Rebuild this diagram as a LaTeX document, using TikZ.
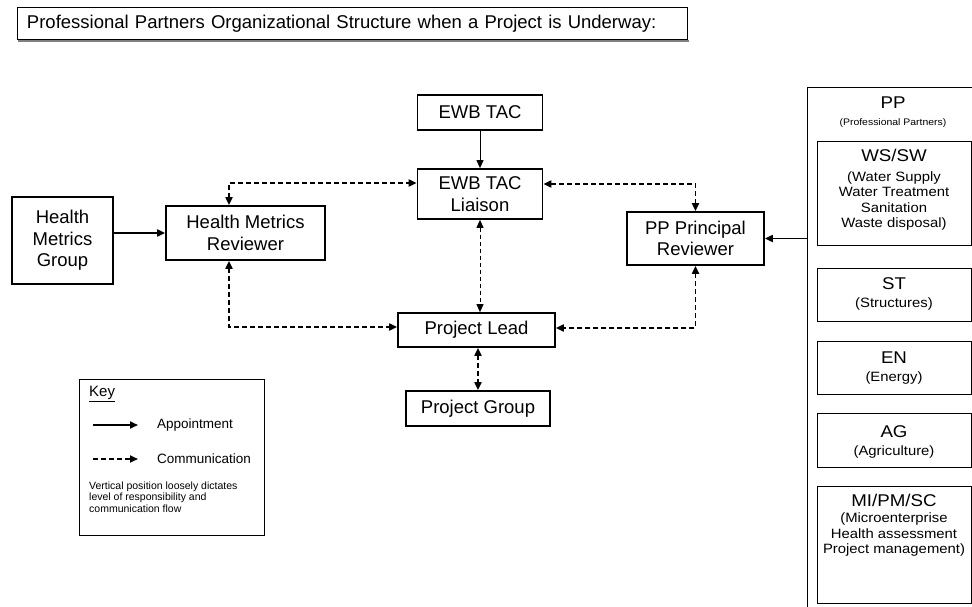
\documentclass[tikz,border=0pt]{standalone}
\usepackage{fontspec}
\setmainfont{Liberation Sans}
\newfontfamily\ppfont{Liberation Sans}[FakeStretch=1.1]
\usetikzlibrary{arrows.meta,calc}
\newcommand\titlefnt{\fontsize{18.5}{22}\selectfont}
\newcommand\mainfnt{\fontsize{18.5}{21.7}\selectfont}
\newcommand\headfnt{\ppfont\fontsize{17}{19}\selectfont}
\newcommand\subfnt{\ppfont\fontsize{13.5}{15.5}\selectfont}
\newcommand\ppsubfnt{\ppfont\fontsize{9.5}{12}\selectfont}
\newcommand\keyhfnt{\fontsize{15}{18}\selectfont}
\newcommand\keyfnt{\fontsize{13.5}{16}\selectfont}
\newcommand\notefnt{\fontsize{10.5}{11.7}\selectfont}
\begin{document}
\begin{tikzpicture}[x=1pt,y=-1pt,
  box/.style={draw, line width=1.7pt, align=center, inner sep=0pt, font=\mainfnt},
  thinbox/.style={draw, line width=1pt, inner sep=0pt},
  lbl/.style={inner sep=0pt, align=center},
  appt/.style={line width=1.8pt, -{Triangle[length=8pt,width=7pt]}},
  comm/.style={line width=1.8pt, dash pattern=on 5pt off 3pt, {Triangle[length=8pt,width=7pt]}-{Triangle[length=8pt,width=7pt]}},
  commthin/.style={line width=1pt, dash pattern=on 4pt off 3pt, {Triangle[length=8pt,width=7pt]}-{Triangle[length=8pt,width=7pt]}},
]
\useasboundingbox (0,0) rectangle (972,607);
\fill[white] (0,0) rectangle (972,607);
\clip (0,0) rectangle (972,607);

% title
\node[thinbox, minimum width=670pt, minimum height=32pt, text width=650pt, align=left, font=\titlefnt] (title) at (352,24) {Professional Partners Organizational Structure when a Project is Underway:};
\draw[gray, line width=1.5pt] ([xshift=1pt,yshift=-0.6pt]title.south west) -- ([xshift=1pt,yshift=-0.6pt]title.south east);

% main boxes
\node[box, minimum width=125pt, minimum height=35pt] (ewb) at (480,112.5) {EWB TAC};
\node[box, minimum width=125pt, minimum height=50pt] (liaison) at (480,194) {EWB TAC\\Liaison};
\node[box, minimum width=159pt, minimum height=54pt] (hmr) at (245.5,233) {Health Metrics\\Reviewer};
\node[box, line width=1.2pt, minimum width=101pt, minimum height=87pt] (hmg) at (62.5,240.5) {Health\\Metrics\\Group};
\node[box, minimum width=137pt, minimum height=53pt] (ppr) at (695.5,238.5) {PP Principal\\Reviewer};
\node[box, minimum width=157pt, minimum height=34pt] (lead) at (476.5,330) {Project Lead};
\node[box, minimum width=144pt, minimum height=35pt] (group) at (478,408.5) {Project Group};

% PP column
\node[draw, line width=1.3pt, anchor=north west, minimum width=190pt, minimum height=540pt, inner sep=0pt] (pp) at (807,87) {};
\node[lbl, font=\headfnt] (ppt) at (893,103) {PP};
\node[lbl, font=\ppsubfnt] (ppsub) at (893,123) {(Professional Partners)};

\node[thinbox, anchor=north west, minimum width=154pt, minimum height=104pt] (ws) at (817,141) {};
\node[lbl, font=\headfnt] (wst) at (894,155) {WS/SW};
\node[lbl, font=\subfnt] (wss) at (894,201) {(Water Supply\\Water Treatment\\Sanitation\\Waste disposal)};

\node[thinbox, anchor=north west, minimum width=154pt, minimum height=53pt] (st) at (817,268) {};
\node[lbl, font=\headfnt] (stt) at (894,284) {ST};
\node[lbl, font=\subfnt] (sts) at (894,304) {(Structures)};

\node[thinbox, anchor=north west, minimum width=154pt, minimum height=53pt] (en) at (817,341) {};
\node[lbl, font=\headfnt] (ent) at (894,358) {EN};
\node[lbl, font=\subfnt] (ens) at (894,378) {(Energy)};

\node[thinbox, anchor=north west, minimum width=154pt, minimum height=54pt] (ag) at (817,413) {};
\node[lbl, font=\headfnt] (agt) at (894,432) {AG};
\node[lbl, font=\subfnt] (ags) at (894,452) {(Agriculture)};

\node[thinbox, anchor=north west, minimum width=154pt, minimum height=117pt] (mi) at (817,486) {};
\node[lbl, font=\headfnt] (mit) at (894,500) {MI/PM/SC};
\node[lbl, font=\subfnt] (mis) at (894,535) {(Microenterprise\\Health assessment\\Project management)};

% key
\node[thinbox, minimum width=185pt, minimum height=156pt] (key) at (171.5,457) {};
\node[lbl, anchor=west, font=\keyhfnt] (keyt) at (89,394) {\underline{Key}};
\coordinate (a1) at (93,425);
\coordinate (a2) at (138,425);
\draw[appt] (a1) -- (a2);
\node[lbl, anchor=west, font=\keyfnt] (apptt) at (157,425) {Appointment};
\coordinate (c1) at (93,459);
\coordinate (c2) at (138,459);
\draw[line width=1.8pt, dash pattern=on 5pt off 3pt, -{Triangle[length=8pt,width=7pt]}] (c1) -- (c2);
\node[lbl, anchor=west, font=\keyfnt] (commt) at (157,459) {Communication};
\node[lbl, anchor=west, align=left, font=\notefnt] (note) at (89,497) {Vertical position loosely dictates\\level of responsibility and\\communication flow};

% connectors
\draw[appt, line width=1pt] (ewb) -- (liaison);
\draw[appt] (hmg.east |- hmr.west) -- (hmr.west);
\draw[comm] ([xshift=-16.5pt]hmr.north) |- ([yshift=11pt]liaison.west);
\draw[comm] ([yshift=10pt]liaison.east) -| (ppr.north);
\draw[commthin] (liaison.south) -- (liaison.south |- lead.north);
\draw[comm] ([xshift=-16.5pt]hmr.south) |- ([yshift=3pt]lead.west);
\draw[comm] (ppr.south) |- ([yshift=2pt]lead.east);
\draw[comm] (group.north |- lead.south) -- (group.north);
\draw[appt] (pp.west |- ppr.east) -- (ppr.east);
\end{tikzpicture}
\end{document}
